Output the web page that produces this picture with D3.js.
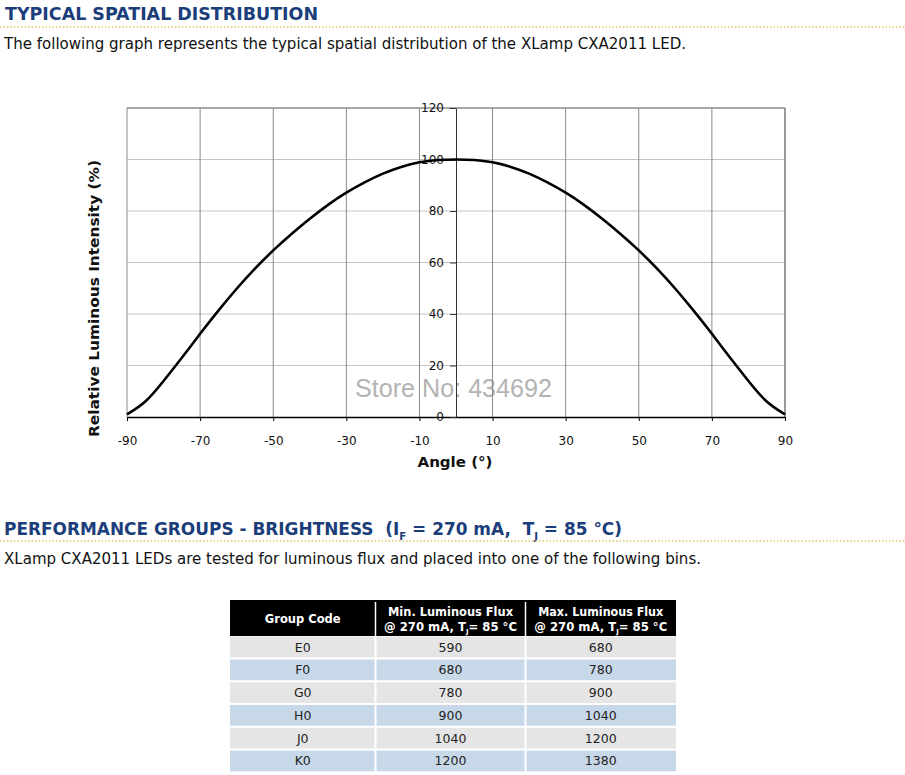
<!DOCTYPE html>
<html><head><meta charset="utf-8">
<script src="https://cdn.jsdelivr.net/npm/d3@7"></script>
<style>html,body{margin:0;padding:0;background:#fff;}svg{display:block;}</style>
</head><body>
<script>
// ---------- data ----------
const angles = [-90,-85,-80,-75,-70,-65,-60,-55,-50,-45,-40,-35,-30,-25,-20,-15,-10,-5,0,5,10,15,20,25,30,35,40,45,50,55,60,65,70,75,80,85,90];
const intensity = [1.0,6.0,14.0,23.0,32.3,41.3,49.8,57.6,64.7,71.1,77.0,82.4,87.1,91.1,94.5,97.1,98.9,99.8,100,99.8,98.9,97.1,94.5,91.1,87.1,82.4,77.0,71.1,64.7,57.6,49.8,41.3,32.3,23.0,14.0,6.0,1.0];
const xTicks = [-90,-70,-50,-30,-10,10,30,50,70,90];
const yTicks = [0,20,40,60,80,100,120];
const groupCodes = ["E0","F0","G0","H0","J0","K0"];
const minFlux = [590,680,780,900,1040,1200];
const maxFlux = [680,780,900,1040,1200,1380];

const W = 905, H = 775;
const svg = d3.select("body").append("svg").attr("width", W).attr("height", H);
const BLUE = "#1b3e7b";
const FONT = "DejaVu Sans, Verdana, sans-serif";
const FONTC = "DejaVu Sans Condensed, DejaVu Sans, sans-serif";

function fit(sel, w){ sel.attr("textLength", w).attr("lengthAdjust", "spacingAndGlyphs"); return sel; }

// ---------- headings ----------
fit(svg.append("text").attr("x", 5).attr("y", 19.5).attr("font-family", FONT).attr("font-weight", "bold")
  .attr("font-size", 17).attr("fill", BLUE).text("TYPICAL SPATIAL DISTRIBUTION"), 313);
svg.append("line").attr("x1", 0).attr("x2", W).attr("y1", 27).attr("y2", 27)
  .attr("stroke", "#e2c46a").attr("stroke-width", 1.5).attr("stroke-dasharray", "1.5,2");
fit(svg.append("text").attr("x", 4).attr("y", 49).attr("font-family", FONT).attr("font-size", 15.5)
  .attr("fill", "#111").text("The following graph represents the typical spatial distribution of the XLamp CXA2011 LED."), 682);

const h2 = svg.append("text").attr("x", 4).attr("y", 535).attr("font-family", FONTC).attr("font-weight", "bold")
  .attr("font-size", 17).attr("fill", BLUE);
h2.append("tspan").text("PERFORMANCE GROUPS - BRIGHTNESS\u00a0\u00a0(I");
h2.append("tspan").attr("font-size", "0.6em").attr("dy", 5).text("F");
h2.append("tspan").attr("dy", -5).text(" = 270 mA,\u00a0\u00a0T");
h2.append("tspan").attr("font-size", "0.6em").attr("dy", 5).text("J");
h2.append("tspan").attr("dy", -5).text(" = 85 °C)");
fit(h2, 618);
svg.append("line").attr("x1", 0).attr("x2", W).attr("y1", 541).attr("y2", 541)
  .attr("stroke", "#e2c46a").attr("stroke-width", 1.5).attr("stroke-dasharray", "1.5,2");
fit(svg.append("text").attr("x", 4).attr("y", 564).attr("font-family", FONTC).attr("font-size", 16.5)
  .attr("fill", "#111").text("XLamp CXA2011 LEDs are tested for luminous flux and placed into one of the following bins."), 697);

// ---------- chart ----------
const x = d3.scaleLinear().domain([-90, 90]).range([127, 785]);
const y = d3.scaleLinear().domain([0, 120]).range([417, 108]);

// watermark
fit(svg.append("text").attr("x", 355).attr("y", 397)
  .attr("font-family", "Liberation Sans, Arial, sans-serif").attr("font-size", 25)
  .attr("fill", "#b3b3b3").text("Store No: 434692"), 197);

const g = svg.append("g");
g.selectAll(".hg").data(yTicks.filter(d => d > 0 && d < 120)).join("line")
  .attr("x1", x(-90)).attr("x2", x(90)).attr("y1", d => y(d)).attr("y2", d => y(d))
  .attr("stroke", "#c4c4c4").attr("stroke-width", 1);
g.selectAll(".vg").data(xTicks).join("line")
  .attr("x1", d => x(d)).attr("x2", d => x(d)).attr("y1", y(120)).attr("y2", y(0))
  .attr("stroke", "#8a8a8a").attr("stroke-width", 1);
g.append("line").attr("x1", x(-90)).attr("x2", x(90)).attr("y1", y(120)).attr("y2", y(120))
  .attr("stroke", "#8a8a8a").attr("stroke-width", 1.5);
g.append("line").attr("x1", x(90)).attr("x2", x(90)).attr("y1", y(120)).attr("y2", y(0))
  .attr("stroke", "#8a8a8a").attr("stroke-width", 1.5);

// x axis
const xAxis = d3.axisBottom(x).tickValues(xTicks).tickSize(4).tickSizeOuter(0).tickFormat(d => String(d));
const xg = svg.append("g").attr("transform", `translate(0,${y(0)})`).call(xAxis);
xg.select(".domain").attr("stroke", "#000").attr("stroke-width", 1.5);
xg.selectAll(".tick line").attr("stroke", "#000");
xg.selectAll(".tick text").attr("font-family", FONT).attr("font-size", 12).attr("fill", "#111").attr("dy", 0).attr("y", 28);

// y axis at x=0
const yAxis = d3.axisLeft(y).tickValues(yTicks).tickSize(6).tickSizeOuter(0).tickFormat(d => String(d));
const yg = svg.append("g").attr("transform", `translate(${x(0)},0)`).call(yAxis);
yg.select(".domain").attr("stroke", "#333").attr("stroke-width", 1);
yg.selectAll(".tick line").attr("stroke", "#333");
yg.selectAll(".tick text").attr("font-family", FONT).attr("font-size", 12).attr("fill", "#111").attr("x", -12);

// curve
const pts = angles.map((a, i) => [a, intensity[i]]);
svg.append("path").datum(pts)
  .attr("d", d3.line().x(d => x(d[0])).y(d => y(d[1])).curve(d3.curveNatural))
  .attr("fill", "none").attr("stroke", "#000").attr("stroke-width", 2.6);

// axis titles
fit(svg.append("text").attr("transform", "translate(99,298.5) rotate(-90)").attr("text-anchor", "middle")
  .attr("font-family", FONT).attr("font-weight", "bold").attr("font-size", 14.5).attr("fill", "#111")
  .text("Relative Luminous Intensity (%)"), 277);
fit(svg.append("text").attr("x", 455).attr("y", 467).attr("text-anchor", "middle")
  .attr("font-family", FONT).attr("font-weight", "bold").attr("font-size", 14.5).attr("fill", "#111")
  .text("Angle (°)"), 75);

// ---------- table ----------
const colX = [230, 375.5, 525.5, 676];
const tbl = svg.append("g");
tbl.append("rect").attr("x", colX[0]).attr("y", 600).attr("width", colX[3] - colX[0]).attr("height", 36).attr("fill", "#000");
tbl.selectAll(".hsep").data([colX[1], colX[2]]).join("line")
  .attr("x1", d => d).attr("x2", d => d).attr("y1", 602).attr("y2", 636).attr("stroke", "#fff").attr("stroke-width", 1.5);
const hdr = (t, cx, yy) => tbl.append("text").attr("x", cx).attr("y", yy).attr("text-anchor", "middle")
  .attr("font-family", FONT).attr("font-weight", "bold").attr("font-size", 11.5).attr("fill", "#fff").text(t);
hdr("Group Code", (colX[0] + colX[1]) / 2, 623);
[1, 2].forEach(c => {
  const cx = (colX[c] + colX[c + 1]) / 2;
  fit(hdr(c === 1 ? "Min. Luminous Flux" : "Max. Luminous Flux", cx, 616), 125);
  const t = tbl.append("text").attr("x", cx).attr("y", 630.5).attr("text-anchor", "middle")
    .attr("font-family", FONT).attr("font-weight", "bold").attr("font-size", 11.5).attr("fill", "#fff");
  t.append("tspan").text("@ 270 mA, T");
  t.append("tspan").attr("font-size", "0.6em").attr("dy", 3.5).text("J");
  t.append("tspan").attr("dy", -3.5).text("= 85 °C");
  fit(t, 133);
});

const rowY = d3.scaleBand().domain(groupCodes).range([636, 772]).paddingInner(0.09).paddingOuter(0.03);
const rows = groupCodes.map((c, i) => ({code: c, vals: [c, minFlux[i], maxFlux[i]], i}));
const rg = tbl.selectAll(".row").data(rows).join("g");
rg.selectAll("rect").data(r => r.vals.map((v, c) => ({v, c, i: r.i, code: r.code}))).join("rect")
  .attr("x", d => colX[d.c] + (d.c > 0 ? 1 : 0)).attr("y", d => rowY(d.code))
  .attr("width", d => colX[d.c + 1] - colX[d.c] - (d.c > 0 ? 1 : 0) - (d.c < 2 ? 1 : 0))
  .attr("height", rowY.bandwidth())
  .attr("fill", d => d.i % 2 === 0 ? "#e5e5e5" : "#c7d8e9");
rg.selectAll("text").data(r => r.vals.map((v, c) => ({v, c, code: r.code}))).join("text")
  .attr("x", d => (colX[d.c] + colX[d.c + 1]) / 2).attr("y", d => rowY(d.code) + rowY.bandwidth() / 2 + 4.5)
  .attr("text-anchor", "middle").attr("font-family", FONT).attr("font-size", 12.5).attr("fill", "#222")
  .text(d => d.v);
</script>
</body></html>
